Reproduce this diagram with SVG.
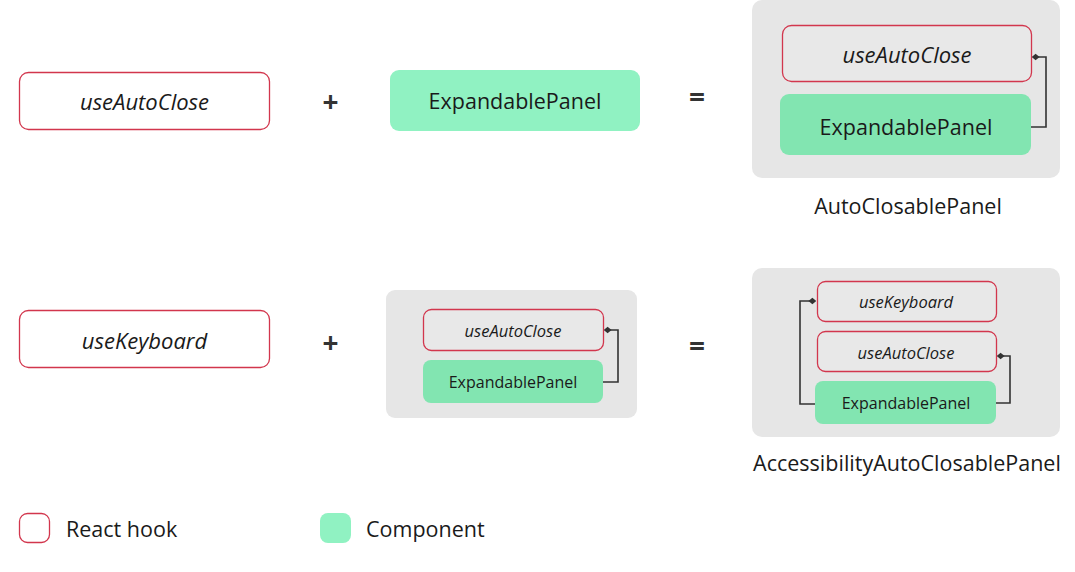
<svg xmlns="http://www.w3.org/2000/svg" width="1075" height="572" viewBox="0 0 1075 572">
<defs>
<marker id="dia" viewBox="0 0 10 10" refX="2" refY="5" markerWidth="8" markerHeight="8" orient="auto" markerUnits="userSpaceOnUse">
<path d="M0 5 L5 1 L10 5 L5 9 Z" fill="#333"/>
</marker>
<style>
text{font-family:"Open Sans","Noto Sans",sans-serif;fill:#1a1a1a;text-anchor:middle;dominant-baseline:central}
.hook{fill:#fff;stroke:#d2364d;stroke-width:1.3}
.hookg{fill:#e8e8e8;stroke:#d2364d;stroke-width:1.3}
.comp{fill:#90f2c2}
.compd{fill:#82e5b1}
.cont{fill:#e6e6e6}
.big{font-size:21.5px}
.bigi{font-size:22px;font-style:italic}
.sm{font-size:16px}
.smi{font-size:16.5px;font-style:italic}
.op{font-weight:bold;font-size:28px;fill:#333}
.conn{fill:none;stroke:#333;stroke-width:1.6;marker-end:url(#dia)}
.l{text-anchor:start}
</style>
</defs>
<rect width="1075" height="572" fill="#fff"/>

<g id="row1-useAutoClose"><rect class="hook" x="19.5" y="72.5" width="250" height="57" rx="9"/><text class="bigi" x="144.5" y="101">useAutoClose</text></g>
<g id="row1-plus"><text class="op" x="330.5" y="100.5">+</text></g>
<g id="row1-ExpandablePanel"><rect class="comp" x="390" y="70" width="250" height="61" rx="9"/><text class="big" x="515" y="100.5">ExpandablePanel</text></g>
<g id="row1-equals"><text class="op" x="697" y="96">=</text></g>
<g id="AutoClosablePanel">
<rect class="cont" x="752" y="0" width="308" height="178" rx="10"/>
<rect class="hookg" x="782.5" y="25.5" width="249" height="56" rx="9"/><text class="bigi" x="907" y="54">useAutoClose</text>
<rect class="compd" x="780" y="94" width="251" height="61" rx="9"/><text class="big" x="906" y="126">ExpandablePanel</text>
<text class="big" x="908" y="205">AutoClosablePanel</text>
</g>

<g id="row2-useKeyboard"><rect class="hook" x="19.5" y="310.5" width="250" height="57" rx="9"/><text class="bigi" x="144.5" y="339.5">useKeyboard</text></g>
<g id="row2-plus"><text class="op" x="330.5" y="342">+</text></g>
<g id="row2-AutoClosablePanel">
<rect class="cont" x="386" y="290" width="251" height="128" rx="9"/>
<rect class="hookg" x="423.5" y="309.5" width="180" height="41" rx="8"/><text class="smi" x="513" y="330">useAutoClose</text>
<rect class="compd" x="423" y="360" width="180" height="43" rx="8"/><text class="sm" x="513" y="382">ExpandablePanel</text>
</g>
<g id="row2-equals"><text class="op" x="697" y="345">=</text></g>
<g id="AccessibilityAutoClosablePanel">
<rect class="cont" x="752" y="268" width="308" height="169" rx="10"/>
<rect class="hookg" x="817.5" y="281.5" width="179" height="40" rx="8"/><text class="smi" x="906" y="301.5">useKeyboard</text>
<rect class="hookg" x="817.5" y="331.5" width="179" height="40" rx="8"/><text class="smi" x="906" y="352">useAutoClose</text>
<rect class="compd" x="815" y="381" width="181" height="43" rx="8"/><text class="sm" x="906" y="403">ExpandablePanel</text>
<text class="big" x="907" y="462">AccessibilityAutoClosablePanel</text>
</g>

<g id="connectors">
<path class="conn" d="M1031 127 H1046 V57 H1038"/>
<path class="conn" d="M603 382 H618 V330 H610"/>
<path class="conn" d="M996 403 H1010 V356 H1003"/>
<path class="conn" d="M815 404 H800 V301 H810"/>
</g>

<g id="legend-hook"><rect class="hook" x="19.5" y="513.5" width="30" height="29" rx="8"/><text class="big l" x="66" y="528">React hook</text></g>
<g id="legend-component"><rect class="comp" x="320" y="513" width="31" height="30" rx="8"/><text class="big l" x="366" y="528">Component</text></g>
</svg>
